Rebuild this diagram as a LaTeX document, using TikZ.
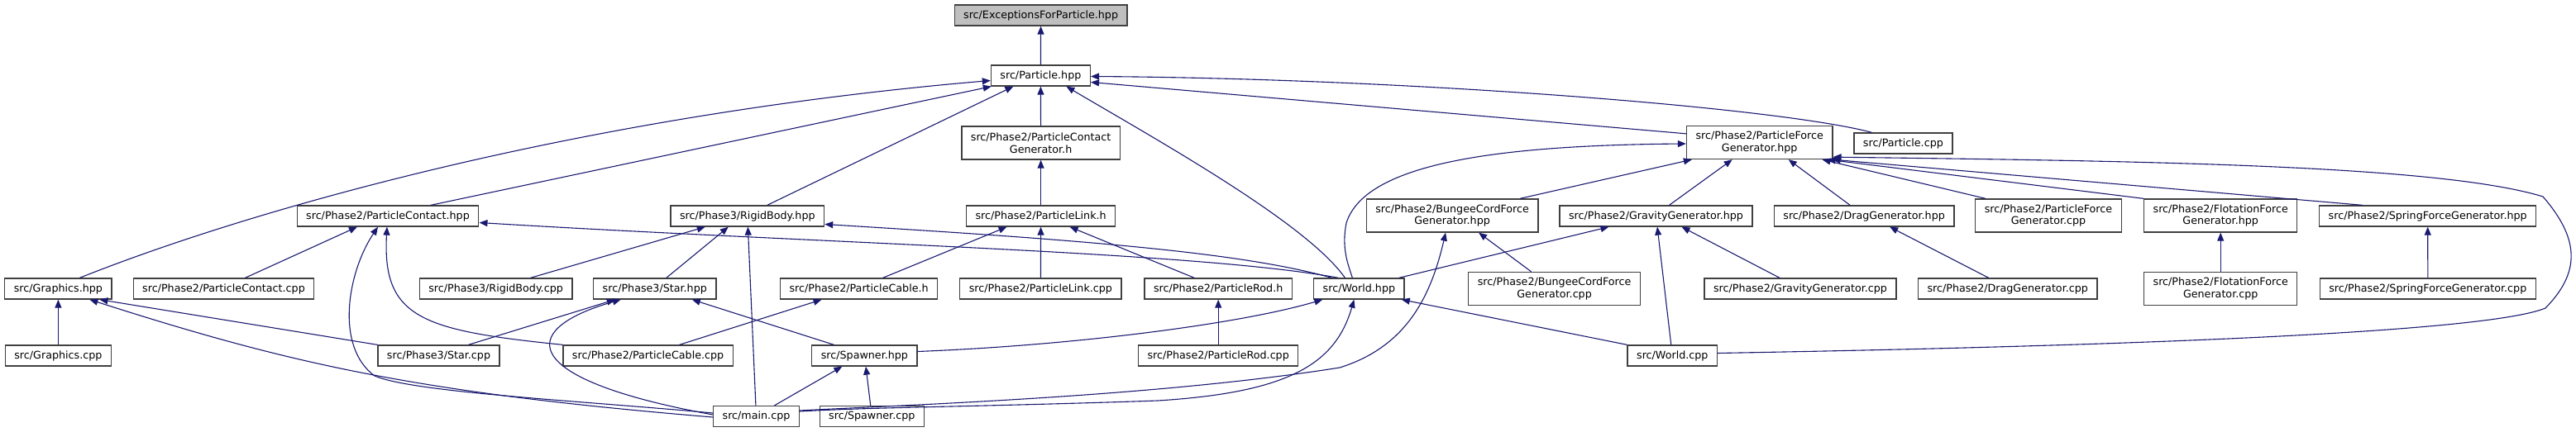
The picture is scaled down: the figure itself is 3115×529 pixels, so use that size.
\documentclass[tikz,border=0pt]{standalone}
\usepackage{fontspec}
\usepackage{tikz}
\usetikzlibrary{
  arrows.meta,
  calc
}
\newfontfamily\dotfont{DejaVu Sans}
\definecolor{depEdge}{HTML}{191970}
\definecolor{depLine}{HTML}{404040}
\definecolor{depRoot}{HTML}{BFBFBF}
\tikzset{
  file/.style={
    draw=depLine, fill=white, line width=1.3pt, rectangle,
    inner xsep=11pt, inner ysep=0pt, minimum height=25pt, align=center,
    font=\dotfont\fontsize{12.7}{14.7}\selectfont
  },
  file2/.style={file, minimum height=40pt},
  rootfile/.style={file, fill=depRoot},
  dep/.style={{Triangle[length=10pt,width=8pt]}-, line width=1.1pt, depEdge}
}

\begin{document}
\begin{tikzpicture}[x=1pt, y=-1pt]
  \useasboundingbox (0,0) rectangle (3115,529);

  % top
  \node[rootfile] (exc) at (1258.6,18.5) {src/ExceptionsForParticle.hpp};
  \node[file] (particle) at (1258.4,91.5) {src/Particle.hpp};
  \node[file2] (pcgen) at (1258.6,173) {src/Phase2/ParticleContact\\Generator.h};
  \node[file2] (pfg) at (2127.7,172.5) {src/Phase2/ParticleForce\\Generator.hpp};
  \node[file] (partcpp) at (2301.4,173.5) {src/Particle.cpp};

  % headers
  \node[file] (pcontact) at (469,261.5) {src/Phase2/ParticleContact.hpp};
  \node[file] (rigid) at (903.8,261.5) {src/Phase3/RigidBody.hpp};
  \node[file] (plink) at (1258.6,261.5) {src/Phase2/ParticleLink.h};
  \node[file2] (bungee) at (1756.1,261) {src/Phase2/BungeeCordForce\\Generator.hpp};
  \node[file] (gravity) at (2002.5,261.5) {src/Phase2/GravityGenerator.hpp};
  \node[file] (drag) at (2254.1,261.5) {src/Phase2/DragGenerator.hpp};
  \node[file2] (pfgcpp) at (2477,261) {src/Phase2/ParticleForce\\Generator.cpp};
  \node[file2] (flot) at (2685.2,261) {src/Phase2/FlotationForce\\Generator.hpp};
  \node[file] (spring) at (2935.7,261.5) {src/Phase2/SpringForceGenerator.hpp};

  \node[file] (graphics) at (70.4,349.5) {src/Graphics.hpp};
  \node[file] (pcontactcpp) at (270.5,349.5) {src/Phase2/ParticleContact.cpp};
  \node[file] (rigidcpp) at (599.6,349.5) {src/Phase3/RigidBody.cpp};
  \node[file] (star) at (791.8,349.5) {src/Phase3/Star.hpp};
  \node[file] (pcable) at (1038.6,349.5) {src/Phase2/ParticleCable.h};
  \node[file] (plinkcpp) at (1258.4,349.5) {src/Phase2/ParticleLink.cpp};
  \node[file] (prod) at (1473.2,349.5) {src/Phase2/ParticleRod.h};
  \node[file] (world) at (1643.4,349.5) {src/World.hpp};
  \node[file2] (bungeecpp) at (1879.6,349.5) {src/Phase2/BungeeCordForce\\Generator.cpp};
  \node[file] (gravitycpp) at (2177,349.5) {src/Phase2/GravityGenerator.cpp};
  \node[file] (dragcpp) at (2427.7,349.5) {src/Phase2/DragGenerator.cpp};
  \node[file2] (flotcpp) at (2685.2,349.5) {src/Phase2/FlotationForce\\Generator.cpp};
  \node[file] (springcpp) at (2935.8,349.5) {src/Phase2/SpringForceGenerator.cpp};

  \node[file] (graphicscpp) at (70.4,430.5) {src/Graphics.cpp};
  \node[file] (starcpp) at (530.5,430.5) {src/Phase3/Star.cpp};
  \node[file] (pcablecpp) at (783.6,430.5) {src/Phase2/ParticleCable.cpp};
  \node[file] (spawner) at (1045.4,430.5) {src/Spawner.hpp};
  \node[file] (prodcpp) at (1473.2,430.5) {src/Phase2/ParticleRod.cpp};
  \node[file] (worldcpp) at (2022.3,430.5) {src/World.cpp};

  \node[file] (maincpp) at (914.5,504) {src/main.cpp};
  \node[file] (spawnercpp) at (1054.3,504) {src/Spawner.cpp};

  % includes of Particle.hpp
  \draw[dep] (exc) -- (particle);
  \draw[dep] ($(particle.west)+(0,6)$) .. controls (700,140) and (300,255) .. ($(graphics.north)+(26,0)$);
  \draw[dep] ($(particle.south west)+(1,0)$) -- ($(pcontact.north)+(52,0)$);
  \draw[dep] ($(particle.south)+(-33,0)$) -- ($(rigid.north)+(24,0)$);
  \draw[dep] (particle) -- (pcgen);
  \draw[dep] ($(particle.south)+(31,0)$) .. controls (1400,170) and (1580,270) .. ($(world.north)+(-17,0)$);
  \draw[dep] ($(particle.east)+(0,8)$) -- ($(pfg.north west)+(0,10)$);
  \draw[dep] ($(particle.east)+(0,1)$) .. controls (1700,95) and (2150,130) .. ($(partcpp.north)+(-38,0)$);

  % contact generator chain
  \draw[dep] (pcgen) -- (plink);
  \draw[dep] ($(plink.south)+(-41,0)$) -- ($(pcable.north)+(29,0)$);
  \draw[dep] (plink) -- (plinkcpp);
  \draw[dep] ($(plink.south)+(35,0)$) -- ($(prod.north)+(-29,0)$);
  \draw[dep] (prod) -- (prodcpp);
  \draw[dep] ($(pcable.south)+(-45,0)$) -- ($(pcablecpp.north)+(38,0)$);

  % ParticleContact.hpp
  \draw[dep] ($(pcontact.south)+(-37,0)$) -- ($(pcontactcpp.north)+(26,0)$);
  \draw[dep] ($(pcontact.south)+(-12,0)$) .. controls (420,330) and (405,420) .. (453,455)
    .. controls (500,475) and (700,485) .. ($(maincpp.west)+(0,-4)$);
  \draw[dep] ($(pcontact.south)+(-1,0)$) .. controls (462,385) and (510,400) .. (pcablecpp.north west);
  \draw[dep] ($(pcontact.east)+(0,8)$) .. controls (1000,295) and (1450,305) .. ($(world.north)+(-25,0)$);

  % RigidBody.hpp
  \draw[dep] ($(rigid.south)+(-51,0)$) -- ($(rigidcpp.north)+(42,0)$);
  \draw[dep] ($(rigid.south)+(-23,0)$) -- ($(star.north)+(14,0)$);
  \draw[dep] (rigid) -- (maincpp);
  \draw[dep] ($(rigid.east)+(0,10)$) .. controls (1300,290) and (1500,305) .. ($(world.north)+(-33,0)$);

  % Star.hpp
  \draw[dep] ($(star.south)+(-48,0)$) -- ($(starcpp.north)+(36,0)$);
  \draw[dep] ($(star.south)+(-41,0)$) .. controls (620,400) and (630,460) .. ($(maincpp.west)+(0,-2)$);
  \draw[dep] ($(star.south)+(45,0)$) -- ($(spawner.north)+(-37,0)$);

  % Graphics.hpp
  \draw[dep] (graphics) -- (graphicscpp);
  \draw[dep] ($(graphics.south)+(50,0)$) -- (starcpp.north west);
  \draw[dep] ($(graphics.south)+(38,0)$) .. controls (350,440) and (500,475) .. ($(maincpp.west)+(0,1)$);

  % Spawner.hpp
  \draw[dep] ($(spawner.south)+(-27,0)$) -- ($(maincpp.north)+(22,0)$);
  \draw[dep] (spawner) -- (spawnercpp);

  % World.hpp
  \draw[dep] ($(world.south)+(-44,0)$) .. controls (1500,392) and (1300,418) .. ($(spawner.east)+(0,-5)$);
  \draw[dep] ($(world.south)+(-6,0)$) .. controls (1615,440) and (1560,475) .. (1400,485)
    .. controls (1200,492) and (1050,493) .. ($(maincpp.east)+(0,-6)$);
  \draw[dep] ($(world.south east)+(-4,0)$) -- (worldcpp.north west);
  \draw[dep] ($(gravity.south)+(-57,0)$) -- ($(world.north east)+(-7,0)$);
  \draw[dep] ($(pfg.west)+(0,1.5)$) .. controls (1800,176) and (1650,200) .. (1628,270)
    .. controls (1622,300) and (1630,320) .. ($(world.north)+(-8,0)$);

  % force generators
  \draw[dep] ($(bungee.south)+(-8,0)$) .. controls (1730,360) and (1700,420) .. (1620,445)
    .. controls (1400,480) and (1100,490) .. ($(maincpp.east)+(0,-7)$);
  \draw[dep] ($(pfg.south west)+(7,0)$) -- ($(bungee.north)+(82,0)$);
  \draw[dep] ($(bungee.south)+(32,0)$) -- ($(bungeecpp.north)+(-28,0)$);
  \draw[dep] ($(pfg.south)+(-33,0)$) -- ($(gravity.north)+(16,0)$);
  \draw[dep] (gravity) -- (worldcpp);
  \draw[dep] ($(gravity.south)+(31,0)$) -- ($(gravitycpp.north)+(-25,0)$);
  \draw[dep] ($(pfg.south)+(35,0)$) -- ($(drag.north)+(-17,0)$);
  \draw[dep] ($(drag.south)+(31,0)$) -- ($(dragcpp.north)+(-23,0)$);
  \draw[dep] ($(pfg.south east)+(-13,0)$) -- ($(pfgcpp.north)+(-76,0)$);
  \draw[dep] ($(pfg.south east)+(-7,0)$) -- (flot.north west);
  \draw[dep] ($(pfg.south east)+(-1,0)$) -- ($(spring.north)+(-79,0)$);
  \draw[dep] ($(pfg.south east)+(0,-3)$) .. controls (2600,195) and (2950,200) .. (3075,238)
    .. controls (3120,290) and (3120,330) .. (3078,373)
    .. controls (3000,405) and (2500,420) .. ($(worldcpp.east)+(0,-3)$);
  \draw[dep] (flot) -- (flotcpp);
  \draw[dep] (spring) -- (springcpp);
\end{tikzpicture}
\end{document}
